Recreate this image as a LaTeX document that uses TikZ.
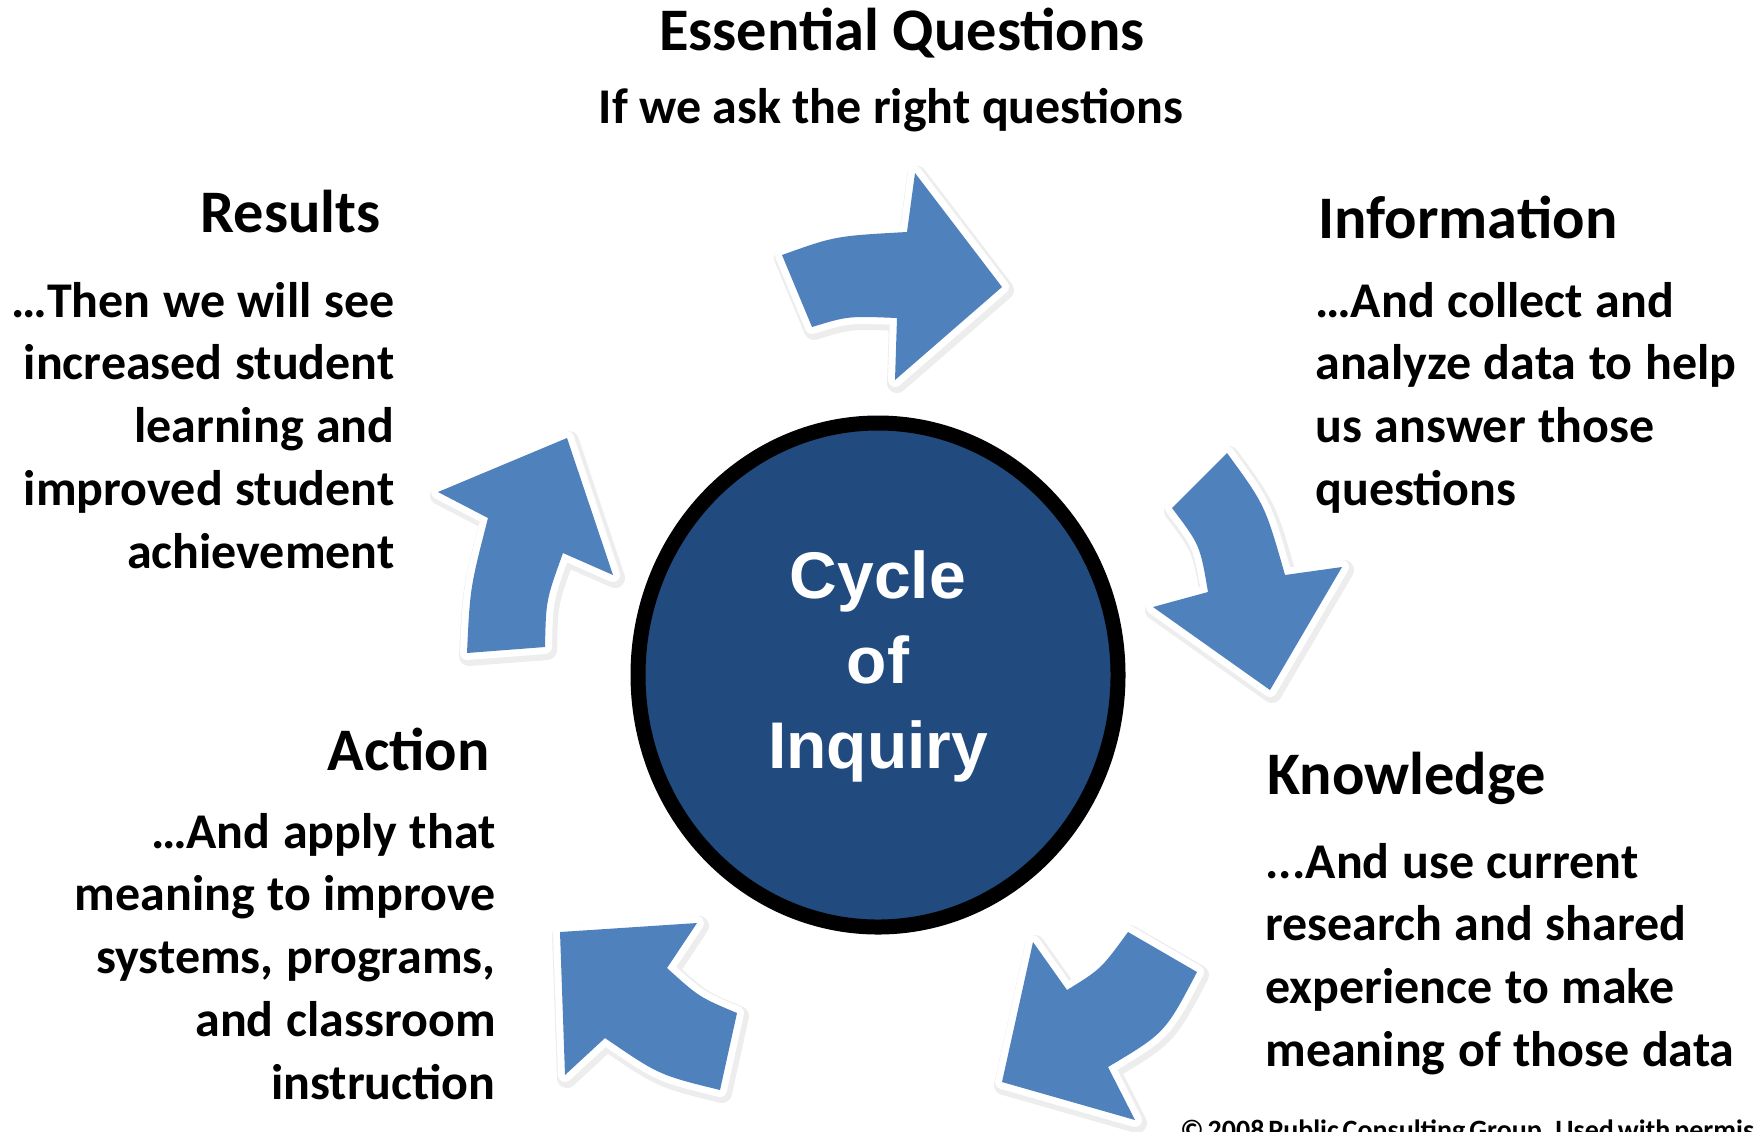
\documentclass[tikz,border=0pt]{standalone}
\usepackage{fontspec}
\setmainfont{Carlito}
\newfontfamily\arialfont{Liberation Sans}
\usetikzlibrary{shapes.geometric}
\definecolor{arrowblue}{RGB}{79,129,189}
\definecolor{circblue}{RGB}{33,74,126}
\newcommand\tightspaces{\spaceskip=0.25em\relax\xspaceskip=0.3em\relax}
\newcommand\ArrPathA{(812,327) -- (782,255) .. controls (835,236) .. (907,232) -- (915,173) -- (1002,287) -- (895,380) -- (897,318) .. controls (848,316) .. (812,327) -- cycle}
\newcommand\ArrPathB{(1172,508) -- (1227,453) .. controls (1265,505) .. (1285,575) -- (1342,567) -- (1270,690) -- (1153,607) -- (1208,592) .. controls (1200,545) .. (1172,508) -- cycle}
\newcommand\ArrPathC{(1128,932) -- (1197,972) .. controls (1165,1033) .. (1108,1067) -- (1135,1120) -- (1002,1082) -- (1033,942) -- (1067,990) .. controls (1101,969) .. (1128,932) -- cycle}
\newcommand\ArrPathD{(697,923) -- (560,932) -- (565,1075) -- (605,1038) .. controls (659,1075) .. (720,1090) -- (737,1013) .. controls (699,997) .. (667,968) -- cycle}
\newcommand\ArrPathE{(438,492) -- (567,438) -- (613,575) -- (563,553) .. controls (546,600) .. (545,647) -- (467,653) .. controls (470,588) .. (488,518) -- cycle}
\begin{document}
\begin{tikzpicture}[x=0.5pt,y=-0.5pt,
  heading/.style={inner sep=0pt, font=\bfseries\fontsize{30.2pt}{36pt}\selectfont},
  subhead/.style={inner sep=0pt, font=\bfseries\fontsize{25pt}{31.5pt}\selectfont},
  bodyr/.style={inner sep=0pt, text width=300pt, align=flush right, anchor=base east, font={\bfseries\fontsize{25pt}{31.4pt}\selectfont}, execute at begin node=\tightspaces},
  bodyl/.style={inner sep=0pt, text width=300pt, align=flush left, anchor=base west, font={\bfseries\fontsize{25pt}{31.4pt}\selectfont}, execute at begin node=\tightspaces},
  copyr/.style={inner sep=0pt, font={\bfseries\fontsize{14pt}{16pt}\selectfont}, execute at begin node={\spaceskip=0.14em\relax}},
  arrowshadow/.style={draw=black, fill=black, line width=10pt, line join=round, opacity=0.07, shift={(2,3)}},
  arrowrim/.style={draw=white, fill=white, line width=7pt, line join=round},
  arrowbody/.style={fill=arrowblue},
]
\useasboundingbox (0,0) rectangle (1754,1131);
\fill[white] (0,0) rectangle (1754,1131);
\clip (0,0) rectangle (1754,1131);

% arrows
\foreach \p in {\ArrPathA,\ArrPathB,\ArrPathC,\ArrPathD,\ArrPathE}{
  \path[arrowshadow] \p;
  \path[arrowrim] \p;
  \path[arrowbody] \p;
}

% central circle
\node[ellipse, draw=black, fill=circblue, line width=7.5pt, minimum width=240pt, minimum height=252pt, inner sep=0pt] (core) at (878,675) {};
\node[text=white, font=\arialfont\bfseries\fontsize{33pt}{42.5pt}\selectfont, align=center, text width=150pt, inner sep=0pt, anchor=base] (coretext) at (878,598) {Cycle\\of\\Inquiry};

% texts
\node[heading, anchor=base] (eqtitle) at (902,50) {Essential Questions};
\node[subhead, anchor=base] (eqsub) at (891,123) {If we ask the right questions};

\node[heading, anchor=base east] (restitle) at (381,232) {Results};
\node[bodyr] (restext) at (395,317) {…Then we will see\\increased student\\learning and\\improved student\\achievement};

\node[heading, anchor=base west] (infotitle) at (1318,238) {Information};
\node[bodyl] (infotext) at (1315,317) {…And collect and\\analyze data to help\\us answer those\\questions};

\node[heading, anchor=base west] (knowtitle) at (1267,794) {Knowledge};
\node[bodyl] (knowtext) at (1265,878) {...And use current\\research and shared\\experience to make\\meaning of those data};

\node[heading, anchor=base east] (acttitle) at (490,770) {Action};
\node[bodyr] (acttext) at (496,848) {…And apply that\\meaning to improve\\systems, programs,\\and classroom\\instruction};

\node[copyr, anchor=base west] (copy) at (1180,1139) {© 2008 Public Consulting Group. Used with permission};
\end{tikzpicture}
\end{document}
